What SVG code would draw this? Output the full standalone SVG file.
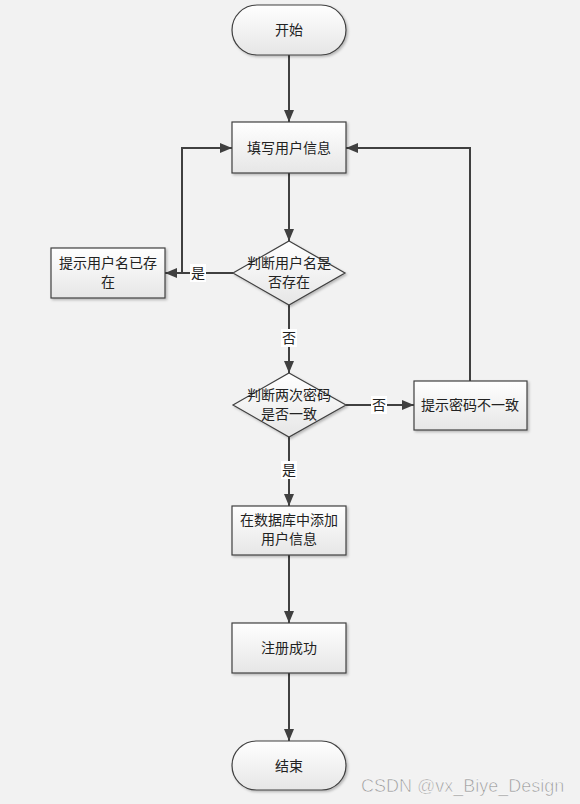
<svg xmlns="http://www.w3.org/2000/svg" width="580" height="804" viewBox="0 0 580 804">
<style>
.n{fill:url(#g);stroke:#404040;stroke-width:1.2}
.t{font-family:"Noto Sans CJK SC","Noto Sans",sans-serif;font-size:14px;fill:#222;text-anchor:middle}
.c{fill:none;stroke:#404040;stroke-width:2}
.lb{fill:#fff}
</style>
<defs>
<linearGradient id="g" x1="0" y1="0" x2="0" y2="1"><stop offset="0" stop-color="#ffffff"/><stop offset="1" stop-color="#e6e6e6"/></linearGradient>
<filter id="sh" x="-10%" y="-10%" width="130%" height="140%"><feDropShadow dx="1.5" dy="1.5" stdDeviation="1" flood-color="#000" flood-opacity="0.25"/></filter>
<marker id="a" viewBox="0 0 12 10" refX="12" refY="5" markerWidth="12" markerHeight="10" markerUnits="userSpaceOnUse" orient="auto"><path d="M0,0 L12,5 L0,10 Z" fill="#404040"/></marker>
</defs>
<rect width="580" height="804" fill="#f2f2f2"/>
<g id="connectors">
<path class="c" d="M289,55 V122" marker-end="url(#a)"/>
<path class="c" d="M289,173 V241" marker-end="url(#a)"/>
<path class="c" d="M233,273 H165" marker-end="url(#a)"/>
<path class="c" d="M182,273 V148 H232" marker-end="url(#a)"/>
<path class="c" d="M289,305 V373" marker-end="url(#a)"/>
<path class="c" d="M346,405 H414" marker-end="url(#a)"/>
<path class="c" d="M470,381 V148 H346" marker-end="url(#a)"/>
<path class="c" d="M289,437 V506" marker-end="url(#a)"/>
<path class="c" d="M289,555 V623" marker-end="url(#a)"/>
<path class="c" d="M289,673 V741" marker-end="url(#a)"/>
<rect class="lb" x="190" y="264" width="16" height="18"/>
<text class="t" x="198" y="278">是</text>
<rect class="lb" x="281" y="329" width="16" height="18"/>
<text class="t" x="289" y="343">否</text>
<rect class="lb" x="371" y="396" width="16" height="18"/>
<text class="t" x="379" y="410">否</text>
<rect class="lb" x="281" y="461" width="16" height="18"/>
<text class="t" x="289" y="475">是</text>
</g>
<g id="start"><rect class="n" filter="url(#sh)" x="232" y="5" width="114" height="50" rx="25"/><text class="t" x="289" y="35">开始</text></g>
<g id="fill"><rect class="n" filter="url(#sh)" x="232" y="122" width="114" height="51"/><text class="t" x="289" y="153">填写用户信息</text></g>
<g id="check-name"><polygon class="n" filter="url(#sh)" points="289,241 345,273 289,305 233,273"/><text class="t" x="289" y="268">判断用户名是</text><text class="t" x="289" y="287">否存在</text></g>
<g id="name-exists"><rect class="n" filter="url(#sh)" x="51" y="248" width="114" height="50"/><text class="t" x="108" y="268">提示用户名已存</text><text class="t" x="108" y="287">在</text></g>
<g id="check-pwd"><polygon class="n" filter="url(#sh)" points="289,373 346,405 289,437 233,405"/><text class="t" x="289" y="400">判断两次密码</text><text class="t" x="289" y="419">是否一致</text></g>
<g id="pwd-mismatch"><rect class="n" filter="url(#sh)" x="414" y="381" width="113" height="49"/><text class="t" x="470" y="410">提示密码不一致</text></g>
<g id="add-db"><rect class="n" filter="url(#sh)" x="232" y="506" width="114" height="49"/><text class="t" x="289" y="525">在数据库中添加</text><text class="t" x="289" y="544">用户信息</text></g>
<g id="success"><rect class="n" filter="url(#sh)" x="232" y="623" width="114" height="50"/><text class="t" x="289" y="653">注册成功</text></g>
<g id="end"><rect class="n" filter="url(#sh)" x="232" y="741" width="114" height="49" rx="24.5"/><text class="t" x="289" y="771">结束</text></g>
<text x="361" y="792" style="font-family:'Liberation Sans',sans-serif;font-size:18px;fill:#9a9a9a;stroke:#fff;stroke-width:0.5">CSDN @vx_Biye_Design</text>
</svg>
